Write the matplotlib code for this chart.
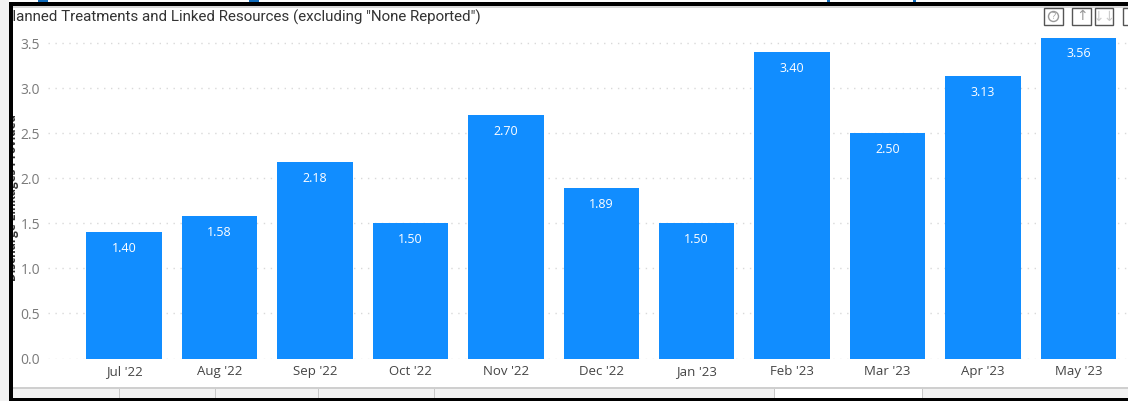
import matplotlib
matplotlib.use('Agg')
import matplotlib.pyplot as plt
from matplotlib.patches import Rectangle, Circle

W, H = 1128, 401

months = ["Jul '22", "Aug '22", "Sep '22", "Oct '22", "Nov '22", "Dec '22",
          "Jan '23", "Feb '23", "Mar '23", "Apr '23", "May '23"]
values = [1.40, 1.58, 2.18, 1.50, 2.70, 1.89, 1.50, 3.40, 2.50, 3.13, 3.56]
y_ticks = [0.0, 0.5, 1.0, 1.5, 2.0, 2.5, 3.0, 3.5]
title = 'Planned Treatments and Linked Resources (excluding "None Reported")'
y_label = 'Discharge Linkages Provided'

plt.rcParams['font.family'] = ['Open Sans', 'DejaVu Sans']

fig = plt.figure(figsize=(W / 100, H / 100), dpi=100, facecolor='white')
ax = fig.add_axes([47.8 / W, 1 - 358.5 / H, (W - 47.8) / W, (358.5 - 34.1) / H])

ax.bar(range(len(months)), values, width=0.79, color='#118DFF', zorder=3)
for i, v in enumerate(values):
    ax.annotate(f'{v:.2f}', (i, v), xytext=(0, -11.5), textcoords='offset points',
                ha='center', va='center', color='white', fontsize=9, zorder=4)

ax.set_xlim(-0.8, 10.52)
ax.set_ylim(0, 3.6)
ax.set_xticks(range(len(months)))
ax.set_xticklabels(months, fontsize=9.5, color='#444444')
ax.set_yticks(y_ticks)
ax.set_yticklabels([f'{t:.1f}' for t in y_ticks], fontsize=10, color='#7a7a7a')
ax.tick_params(axis='both', length=0)
ax.tick_params(axis='x', pad=5)
ax.tick_params(axis='y', pad=5.5)
ax.grid(axis='y', color='#d9d9d9', linewidth=1, linestyle=(0, (1, 4)), zorder=0)
for s in ax.spines.values():
    s.set_visible(False)
ax.patch.set_alpha(0)


def to_fig(x, y):
    return x / W, 1 - y / H


def box(x0, y0, x1, y1, **kw):
    fig.add_artist(Rectangle(to_fig(x0, y1), (x1 - x0) / W, (y1 - y0) / H,
                             transform=fig.transFigure, linewidth=kw.pop('lw', 0), **kw))


# title and axis label run under the black frame, so they get cut off on the left
tx, ty = to_fig(3, 17)
fig.text(tx, ty, title, fontsize=10.9, color='#333333', family='Roboto', va='center', zorder=2)
lx, ly = to_fig(13, 198)
fig.text(lx, ly, y_label, fontsize=8.5, color='#333333', fontweight='bold', rotation=90,
         ha='center', va='center', zorder=2)

# bottom strip of the screenshot
box(12, 387, W, 389, facecolor='#cfcfcf', zorder=5)
box(12, 389, W, 398, facecolor='#f2f2f2', zorder=5)
box(774, 389, 922, 398, facecolor='white', zorder=5)
for x in [119, 215, 318, 434, 774, 922]:
    box(x, 389, x + 1, 398, facecolor='#c8c8c8', zorder=6)

# black screenshot frame
box(0, 0, 9, H, facecolor='#f2f2f2', zorder=7)
box(9, 2, 13, H, facecolor='black', zorder=8)
box(9, 2, W, 6, facecolor='black', zorder=8)
box(9, 398, W, H, facecolor='black', zorder=8)
box(13, 6, W, 8, facecolor='#d8d8d8', zorder=7)

# blue fragments left of the previous slide
for x0, x1 in [(38, 48), (249, 259), (827, 830), (913, 916)]:
    box(x0, 0, x1, 2, facecolor='#0f6cbd', zorder=8)

# visual header buttons
for x0, x1, s, c in [(1044, 1063, '', '#aaaaaa'), (1072, 1091, '\u2191', '#999999'),
                     (1095, 1113, '\u2193\u2193', '#cccccc')]:
    box(x0, 8, x1, 25, facecolor='white', edgecolor='#555555', lw=1, zorder=9)
    bx, by = to_fig((x0 + x1) / 2, 16.5)
    if s:
        fig.text(bx, by, s, fontsize=10, color=c, family='DejaVu Sans', ha='center',
                 va='center', zorder=10)
fig.add_artist(Circle((1053.5, H - 16.5), 5, transform=None, facecolor='none',
                      edgecolor='#999999', linewidth=1, zorder=10))
bx, by = to_fig(1053.5, 16.5)
fig.text(bx, by, '?', fontsize=6.5, color='#999999', ha='center', va='center', zorder=11)
box(1123, 8, W + 2, 25, facecolor='white', edgecolor='#555555', lw=1, zorder=9)

fig.savefig('out.png', dpi=100)
